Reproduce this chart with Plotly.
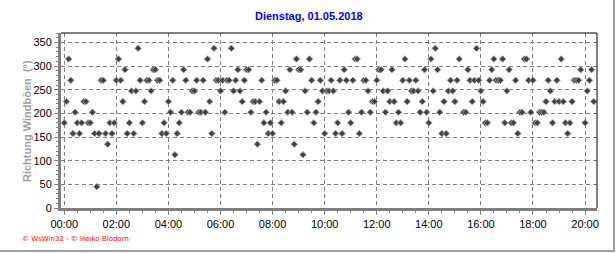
import plotly.graph_objects as go
import pandas as pd

title_text = "Dienstag, 01.05.2018"
y_title = "Richtung Windböen  (°)"
footer = "© WsWin32 - © Heiko Blödorn"

start_time = "2018-05-01 00:00"
step = "5min"
direction = [
    180, 225, 315, 270, 157.5, 202.5, 180, 157.5, 180, 225,
    225, 180, 180, 202.5, 157.5, 45, 157.5, 270, 270, 157.5,
    135, 180, 157.5, 180, 270, 315, 270, 225, 292.5, 157.5,
    180, 247.5, 157.5, 247.5, 337.5, 270, 180, 225, 270, 270,
    247.5, 292.5, 292.5, 270, 270, 157.5, 180, 157.5, 225, 202.5,
    270, 112.5, 157.5, 180, 202.5, 292.5, 270, 202.5, 202.5, 247.5,
    247.5, 270, 202.5, 202.5, 270, 202.5, 315, 225, 157.5, 337.5,
    270, 270, 247.5, 270, 202.5, 270, 270, 337.5, 247.5, 270,
    292.5, 247.5, 225, 270, 292.5, 292.5, 202.5, 225, 225, 135,
    225, 270, 180, 202.5, 157.5, 180, 157.5, 270, 270, 225,
    180, 225, 247.5, 202.5, 292.5, 202.5, 135, 315, 292.5, 292.5,
    112.5, 247.5, 202.5, 315, 270, 180, 202.5, 225, 270, 247.5,
    157.5, 247.5, 247.5, 270, 247.5, 157.5, 180, 270, 157.5, 292.5,
    270, 202.5, 180, 270, 315, 315, 157.5, 202.5, 270, 270,
    247.5, 202.5, 225, 225, 270, 292.5, 292.5, 247.5, 202.5, 247.5,
    225, 292.5, 225, 180, 202.5, 180, 270, 315, 225, 270,
    247.5, 247.5, 270, 247.5, 202.5, 225, 292.5, 202.5, 180, 315,
    247.5, 337.5, 292.5, 202.5, 157.5, 225, 157.5, 247.5, 270, 247.5,
    225, 270, 315, None, 202.5, 202.5, 292.5, 270, 225, 270,
    337.5, 270, 247.5, 225, 180, 180, 270, 292.5, 315, 270,
    270, 270, 315, 180, 247.5, 292.5, 180, 180, 270, 157.5,
    202.5, 202.5, 315, 315, 270, 202.5, 270, 180, 180, 202.5,
    202.5, 202.5, 225, 270, 247.5, 180, 225, 270, 225, 315,
    225, 180, 157.5, 180, 225, 270, 270, 270, 292.5, None,
    180, 247.5, 270, 292.5, 225,
]
times = pd.date_range(start_time, periods=len(direction), freq=step)

x_range = ["2018-04-30 23:52:30", "2018-05-01 20:27:30"]
y_range = [0, 370]
x_tick_vals = pd.date_range("2018-05-01 00:00", "2018-05-01 20:00", freq="2h")
x_tick_text = [t.strftime("%H:%M") for t in x_tick_vals]

W, H = 616, 253
L, R, T, B = 61, 19, 33, 45
pw, ph = W - L - R, H - T - B

def px2paper_x(px):
    return (px - L) / pw

def px2paper_y(py):
    return (H - B - py) / ph

fig = go.Figure()
fig.add_trace(go.Scatter(
    x=times, y=direction, mode="markers",
    marker=dict(symbol="diamond", size=5, color="#404040",
                line=dict(color="#a0a0a0", width=1)),
    hoverinfo="skip", showlegend=False,
))

tick_font = dict(family="Liberation Sans, Arial", size=11, color="black")
fig.update_layout(
    width=W, height=H,
    margin=dict(l=L, r=R, t=T, b=B, pad=0),
    paper_bgcolor="white", plot_bgcolor="white",
    showlegend=False,
    xaxis=dict(
        range=x_range, type="date",
        tickvals=list(x_tick_vals), ticktext=x_tick_text,
        tickfont=tick_font,
        showgrid=True, gridcolor="#808080", gridwidth=1, griddash="4px,3px",
        showline=True, linecolor="#808080", linewidth=3,
        ticks="outside", ticklen=4, tickcolor="#808080", tickwidth=1,
        minor=dict(dtick=30 * 60 * 1000, ticks="outside", ticklen=2,
                   tickcolor="#808080", showgrid=False),
        zeroline=False,
    ),
    yaxis=dict(
        range=y_range, dtick=50, tick0=0,
        tickfont=tick_font,
        showgrid=True, gridcolor="#808080", gridwidth=1, griddash="4px,3px",
        showline=True, linecolor="#808080", linewidth=3,
        ticks="outside", ticklen=4, tickcolor="#808080", tickwidth=1,
        minor=dict(dtick=10, ticks="outside", ticklen=2,
                   tickcolor="#808080", showgrid=False),
        zeroline=False,
    ),
)

# Y axis title (bold gray)
fig.add_annotation(
    text="<b>" + y_title + "</b>", xref="paper", yref="paper",
    x=px2paper_x(27), y=px2paper_y(121), xanchor="center", yanchor="middle",
    textangle=-90, showarrow=False,
    font=dict(family="Liberation Sans, Arial", size=11, color="#a0a0a0"),
)
# Title
fig.add_annotation(
    text="<b>" + title_text + "</b>", xref="paper", yref="paper",
    x=px2paper_x(309), y=px2paper_y(16), xanchor="center", yanchor="middle",
    showarrow=False,
    font=dict(family="Liberation Sans, Arial", size=11, color="#0000ff"),
)
# Footer
fig.add_annotation(
    text=footer, xref="paper", yref="paper",
    x=px2paper_x(20), y=px2paper_y(239), xanchor="left", yanchor="middle",
    showarrow=False,
    font=dict(family="DejaVu Sans, Arial", size=7, color="#ff0000"),
)

# Top and right black borders of plot area
fig.add_shape(type="line", xref="paper", yref="paper", x0=0, x1=1, y0=1, y1=1,
              line=dict(color="black", width=1))
fig.add_shape(type="line", xref="paper", yref="paper", x0=1, x1=1, y0=0, y1=1,
              line=dict(color="black", width=1))
# Outer gray frame (right + bottom)
fig.add_shape(type="line", xref="paper", yref="paper",
              x0=px2paper_x(614), x1=px2paper_x(614), y0=px2paper_y(0), y1=px2paper_y(251),
              line=dict(color="#a0a0a0", width=2))
fig.add_shape(type="line", xref="paper", yref="paper",
              x0=px2paper_x(0), x1=px2paper_x(615), y0=px2paper_y(251), y1=px2paper_y(251),
              line=dict(color="#a0a0a0", width=2))

fig.write_html("out.html")
